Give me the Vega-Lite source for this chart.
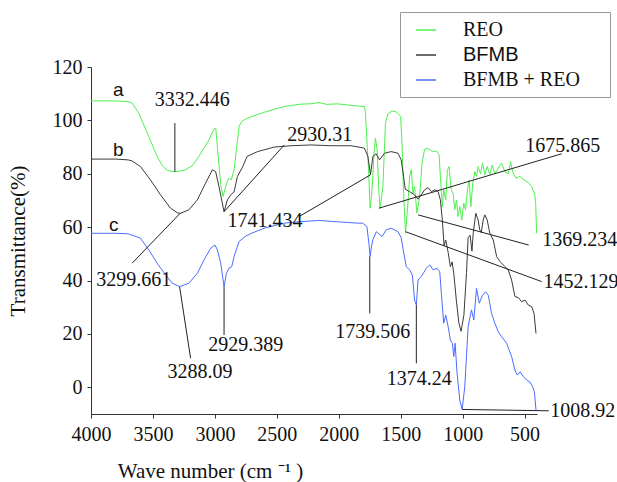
{
  "$schema": "https://vega.github.io/schema/vega-lite/v6.json",
  "autosize": "none",
  "width": 446,
  "height": 347,
  "padding": {"left": 91, "top": 67, "right": 80, "bottom": 68},
  "background": "white",
  "config": {
    "view": {"stroke": null},
    "axis": {"grid": false, "domainColor": "#333", "tickColor": "#333", "tickSize": 4, "labelFont": "Liberation Serif", "labelFontSize": 20, "labelColor": "#111", "titleFont": "Liberation Serif", "titleFontSize": 21, "titleFontWeight": "normal", "titleColor": "#111", "labelOverlap": false, "labelFlush": false}
  },
  "datasets": {
    "spectra": [
      {"w":4000,"t":107.3,"s":"REO"},{"w":3800,"t":107.3,"s":"REO"},{"w":3700,"t":107.0,"s":"REO"},{"w":3668,"t":106.5,"s":"REO"},{"w":3615,"t":102.7,"s":"REO"},{"w":3534,"t":94,"s":"REO"},{"w":3466,"t":86.5,"s":"REO"},{"w":3425,"t":83,"s":"REO"},{"w":3380,"t":81.2,"s":"REO"},{"w":3331,"t":80.8,"s":"REO"},{"w":3280,"t":81,"s":"REO"},{"w":3236,"t":81.5,"s":"REO"},{"w":3182,"t":83,"s":"REO"},{"w":3129,"t":86.5,"s":"REO"},{"w":3048,"t":92.7,"s":"REO"},{"w":3007,"t":96.7,"s":"REO"},{"w":2993,"t":97,"s":"REO"},{"w":2980,"t":90.2,"s":"REO"},{"w":2953,"t":75.9,"s":"REO"},{"w":2934,"t":71.5,"s":"REO"},{"w":2913,"t":75.2,"s":"REO"},{"w":2900,"t":77,"s":"REO"},{"w":2886,"t":78.4,"s":"REO"},{"w":2867,"t":77.7,"s":"REO"},{"w":2845,"t":81.5,"s":"REO"},{"w":2805,"t":97.7,"s":"REO"},{"w":2783,"t":99.6,"s":"REO"},{"w":2764,"t":100.2,"s":"REO"},{"w":2700,"t":101.5,"s":"REO"},{"w":2602,"t":103,"s":"REO"},{"w":2520,"t":104.2,"s":"REO"},{"w":2440,"t":105.2,"s":"REO"},{"w":2380,"t":105.6,"s":"REO"},{"w":2305,"t":106.1,"s":"REO"},{"w":2230,"t":106.2,"s":"REO"},{"w":2157,"t":106.7,"s":"REO"},{"w":2100,"t":106,"s":"REO"},{"w":2008,"t":106.2,"s":"REO"},{"w":1900,"t":105.6,"s":"REO"},{"w":1792,"t":105.2,"s":"REO"},{"w":1785,"t":102.7,"s":"REO"},{"w":1770,"t":90,"s":"REO"},{"w":1760,"t":82,"s":"REO"},{"w":1747,"t":67.1,"s":"REO"},{"w":1735,"t":72,"s":"REO"},{"w":1725,"t":79,"s":"REO"},{"w":1715,"t":88,"s":"REO"},{"w":1704,"t":93.3,"s":"REO"},{"w":1690,"t":89,"s":"REO"},{"w":1676,"t":72.7,"s":"REO"},{"w":1666,"t":67.1,"s":"REO"},{"w":1644,"t":75.2,"s":"REO"},{"w":1623,"t":99,"s":"REO"},{"w":1603,"t":102.5,"s":"REO"},{"w":1570,"t":103.5,"s":"REO"},{"w":1536,"t":103.2,"s":"REO"},{"w":1501,"t":101.5,"s":"REO"},{"w":1490,"t":91.5,"s":"REO"},{"w":1477,"t":72.7,"s":"REO"},{"w":1461,"t":57.7,"s":"REO"},{"w":1442,"t":69,"s":"REO"},{"w":1428,"t":79,"s":"REO"},{"w":1415,"t":81.5,"s":"REO"},{"w":1401,"t":72.7,"s":"REO"},{"w":1388,"t":75.2,"s":"REO"},{"w":1369,"t":65.2,"s":"REO"},{"w":1347,"t":71.5,"s":"REO"},{"w":1328,"t":84,"s":"REO"},{"w":1307,"t":89.2,"s":"REO"},{"w":1279,"t":89.5,"s":"REO"},{"w":1245,"t":88.3,"s":"REO"},{"w":1212,"t":88.5,"s":"REO"},{"w":1190,"t":87.1,"s":"REO"},{"w":1180,"t":79,"s":"REO"},{"w":1164,"t":67.7,"s":"REO"},{"w":1153,"t":74,"s":"REO"},{"w":1137,"t":70.2,"s":"REO"},{"w":1123,"t":81.5,"s":"REO"},{"w":1109,"t":82.7,"s":"REO"},{"w":1093,"t":74,"s":"REO"},{"w":1077,"t":72.7,"s":"REO"},{"w":1064,"t":66.5,"s":"REO"},{"w":1050,"t":70.2,"s":"REO"},{"w":1037,"t":64,"s":"REO"},{"w":1023,"t":67.7,"s":"REO"},{"w":1007,"t":62.7,"s":"REO"},{"w":991,"t":69,"s":"REO"},{"w":977,"t":66.5,"s":"REO"},{"w":961,"t":74,"s":"REO"},{"w":947,"t":77.7,"s":"REO"},{"w":934,"t":67.7,"s":"REO"},{"w":918,"t":76.5,"s":"REO"},{"w":902,"t":80.8,"s":"REO"},{"w":888,"t":79,"s":"REO"},{"w":875,"t":82.7,"s":"REO"},{"w":856,"t":80,"s":"REO"},{"w":840,"t":84,"s":"REO"},{"w":821,"t":79.7,"s":"REO"},{"w":802,"t":82.7,"s":"REO"},{"w":781,"t":79.7,"s":"REO"},{"w":761,"t":83.3,"s":"REO"},{"w":740,"t":80,"s":"REO"},{"w":713,"t":82.1,"s":"REO"},{"w":686,"t":84,"s":"REO"},{"w":659,"t":80.8,"s":"REO"},{"w":632,"t":80,"s":"REO"},{"w":613,"t":84.6,"s":"REO"},{"w":597,"t":80.8,"s":"REO"},{"w":570,"t":78.3,"s":"REO"},{"w":538,"t":79,"s":"REO"},{"w":505,"t":77.7,"s":"REO"},{"w":470,"t":76.7,"s":"REO"},{"w":443,"t":75.2,"s":"REO"},{"w":421,"t":72.7,"s":"REO"},{"w":411,"t":69.6,"s":"REO"},{"w":403,"t":57.7,"s":"REO"},

      {"w":4000,"t":85.5,"s":"BFMB"},{"w":3800,"t":85.5,"s":"BFMB"},{"w":3700,"t":85.2,"s":"BFMB"},{"w":3668,"t":84.8,"s":"BFMB"},{"w":3601,"t":82.7,"s":"BFMB"},{"w":3520,"t":77.7,"s":"BFMB"},{"w":3439,"t":72.1,"s":"BFMB"},{"w":3358,"t":67.1,"s":"BFMB"},{"w":3300,"t":65.3,"s":"BFMB"},{"w":3277,"t":65.2,"s":"BFMB"},{"w":3210,"t":66.5,"s":"BFMB"},{"w":3142,"t":70.2,"s":"BFMB"},{"w":3075,"t":76.5,"s":"BFMB"},{"w":3020,"t":81.5,"s":"BFMB"},{"w":2994,"t":80.8,"s":"BFMB"},{"w":2967,"t":75.2,"s":"BFMB"},{"w":2926,"t":65.8,"s":"BFMB"},{"w":2899,"t":70.2,"s":"BFMB"},{"w":2872,"t":72.1,"s":"BFMB"},{"w":2845,"t":73.2,"s":"BFMB"},{"w":2818,"t":79,"s":"BFMB"},{"w":2777,"t":82.5,"s":"BFMB"},{"w":2740,"t":86.5,"s":"BFMB"},{"w":2656,"t":88.3,"s":"BFMB"},{"w":2521,"t":90,"s":"BFMB"},{"w":2386,"t":90.5,"s":"BFMB"},{"w":2224,"t":90.8,"s":"BFMB"},{"w":2062,"t":90.5,"s":"BFMB"},{"w":1900,"t":90.5,"s":"BFMB"},{"w":1793,"t":89.6,"s":"BFMB"},{"w":1765,"t":86.5,"s":"BFMB"},{"w":1744,"t":79.6,"s":"BFMB"},{"w":1725,"t":86.5,"s":"BFMB"},{"w":1698,"t":87.5,"s":"BFMB"},{"w":1671,"t":85.2,"s":"BFMB"},{"w":1631,"t":87.7,"s":"BFMB"},{"w":1577,"t":88.3,"s":"BFMB"},{"w":1522,"t":87.7,"s":"BFMB"},{"w":1496,"t":85.2,"s":"BFMB"},{"w":1477,"t":79,"s":"BFMB"},{"w":1463,"t":74.2,"s":"BFMB"},{"w":1428,"t":73.3,"s":"BFMB"},{"w":1388,"t":72.1,"s":"BFMB"},{"w":1360,"t":70.5,"s":"BFMB"},{"w":1334,"t":72.1,"s":"BFMB"},{"w":1307,"t":74,"s":"BFMB"},{"w":1279,"t":74.8,"s":"BFMB"},{"w":1252,"t":73.3,"s":"BFMB"},{"w":1225,"t":74,"s":"BFMB"},{"w":1198,"t":73.3,"s":"BFMB"},{"w":1180,"t":70.2,"s":"BFMB"},{"w":1164,"t":62.7,"s":"BFMB"},{"w":1150,"t":53,"s":"BFMB"},{"w":1137,"t":55.2,"s":"BFMB"},{"w":1117,"t":50.5,"s":"BFMB"},{"w":1099,"t":45.2,"s":"BFMB"},{"w":1085,"t":47,"s":"BFMB"},{"w":1070,"t":42,"s":"BFMB"},{"w":1050,"t":32,"s":"BFMB"},{"w":1030,"t":24,"s":"BFMB"},{"w":1013,"t":21,"s":"BFMB"},{"w":990,"t":27,"s":"BFMB"},{"w":969,"t":43,"s":"BFMB"},{"w":956,"t":56,"s":"BFMB"},{"w":940,"t":57,"s":"BFMB"},{"w":925,"t":51,"s":"BFMB"},{"w":915,"t":57.7,"s":"BFMB"},{"w":894,"t":65.2,"s":"BFMB"},{"w":875,"t":62.7,"s":"BFMB"},{"w":862,"t":59,"s":"BFMB"},{"w":850,"t":58,"s":"BFMB"},{"w":834,"t":62.7,"s":"BFMB"},{"w":821,"t":64.6,"s":"BFMB"},{"w":802,"t":62.7,"s":"BFMB"},{"w":781,"t":57.7,"s":"BFMB"},{"w":753,"t":55.2,"s":"BFMB"},{"w":726,"t":49,"s":"BFMB"},{"w":700,"t":47.2,"s":"BFMB"},{"w":659,"t":45.2,"s":"BFMB"},{"w":632,"t":44,"s":"BFMB"},{"w":605,"t":40.2,"s":"BFMB"},{"w":578,"t":34,"s":"BFMB"},{"w":551,"t":33.6,"s":"BFMB"},{"w":524,"t":32.1,"s":"BFMB"},{"w":497,"t":32.7,"s":"BFMB"},{"w":470,"t":30.8,"s":"BFMB"},{"w":443,"t":30.2,"s":"BFMB"},{"w":424,"t":27.7,"s":"BFMB"},{"w":408,"t":20.2,"s":"BFMB"},

      {"w":4000,"t":57.7,"s":"BFMB + REO"},{"w":3800,"t":57.7,"s":"BFMB + REO"},{"w":3700,"t":57.5,"s":"BFMB + REO"},{"w":3668,"t":57,"s":"BFMB + REO"},{"w":3601,"t":55.9,"s":"BFMB + REO"},{"w":3534,"t":51.5,"s":"BFMB + REO"},{"w":3466,"t":46.5,"s":"BFMB + REO"},{"w":3398,"t":42.1,"s":"BFMB + REO"},{"w":3344,"t":39,"s":"BFMB + REO"},{"w":3285,"t":37.7,"s":"BFMB + REO"},{"w":3210,"t":39,"s":"BFMB + REO"},{"w":3142,"t":42.7,"s":"BFMB + REO"},{"w":3088,"t":47.7,"s":"BFMB + REO"},{"w":3034,"t":52.1,"s":"BFMB + REO"},{"w":2999,"t":53.3,"s":"BFMB + REO"},{"w":2980,"t":51.5,"s":"BFMB + REO"},{"w":2953,"t":46.5,"s":"BFMB + REO"},{"w":2926,"t":37.7,"s":"BFMB + REO"},{"w":2907,"t":42.7,"s":"BFMB + REO"},{"w":2886,"t":44.6,"s":"BFMB + REO"},{"w":2864,"t":45.2,"s":"BFMB + REO"},{"w":2845,"t":49,"s":"BFMB + REO"},{"w":2805,"t":54.6,"s":"BFMB + REO"},{"w":2756,"t":56.5,"s":"BFMB + REO"},{"w":2700,"t":57.8,"s":"BFMB + REO"},{"w":2602,"t":59.6,"s":"BFMB + REO"},{"w":2440,"t":61.5,"s":"BFMB + REO"},{"w":2305,"t":62.1,"s":"BFMB + REO"},{"w":2157,"t":62.5,"s":"BFMB + REO"},{"w":2008,"t":62,"s":"BFMB + REO"},{"w":1846,"t":61.5,"s":"BFMB + REO"},{"w":1806,"t":61.5,"s":"BFMB + REO"},{"w":1773,"t":60.2,"s":"BFMB + REO"},{"w":1757,"t":54,"s":"BFMB + REO"},{"w":1747,"t":49,"s":"BFMB + REO"},{"w":1735,"t":53,"s":"BFMB + REO"},{"w":1725,"t":55.2,"s":"BFMB + REO"},{"w":1698,"t":58.3,"s":"BFMB + REO"},{"w":1671,"t":57.3,"s":"BFMB + REO"},{"w":1650,"t":56.5,"s":"BFMB + REO"},{"w":1617,"t":59,"s":"BFMB + REO"},{"w":1577,"t":59.6,"s":"BFMB + REO"},{"w":1522,"t":58.3,"s":"BFMB + REO"},{"w":1496,"t":56,"s":"BFMB + REO"},{"w":1482,"t":52,"s":"BFMB + REO"},{"w":1455,"t":45.2,"s":"BFMB + REO"},{"w":1428,"t":44,"s":"BFMB + REO"},{"w":1406,"t":42,"s":"BFMB + REO"},{"w":1388,"t":32.7,"s":"BFMB + REO"},{"w":1374,"t":30.8,"s":"BFMB + REO"},{"w":1360,"t":40.2,"s":"BFMB + REO"},{"w":1334,"t":41.5,"s":"BFMB + REO"},{"w":1293,"t":44.6,"s":"BFMB + REO"},{"w":1266,"t":45.9,"s":"BFMB + REO"},{"w":1239,"t":44,"s":"BFMB + REO"},{"w":1207,"t":44.6,"s":"BFMB + REO"},{"w":1185,"t":43.3,"s":"BFMB + REO"},{"w":1172,"t":35.2,"s":"BFMB + REO"},{"w":1153,"t":24,"s":"BFMB + REO"},{"w":1137,"t":27.1,"s":"BFMB + REO"},{"w":1117,"t":22.7,"s":"BFMB + REO"},{"w":1099,"t":17.7,"s":"BFMB + REO"},{"w":1083,"t":16.5,"s":"BFMB + REO"},{"w":1072,"t":11.5,"s":"BFMB + REO"},{"w":1061,"t":16.5,"s":"BFMB + REO"},{"w":1045,"t":5.2,"s":"BFMB + REO"},{"w":1023,"t":-4.8,"s":"BFMB + REO"},{"w":1004,"t":-8.3,"s":"BFMB + REO"},{"w":983,"t":0.2,"s":"BFMB + REO"},{"w":956,"t":22.7,"s":"BFMB + REO"},{"w":929,"t":29,"s":"BFMB + REO"},{"w":910,"t":25.2,"s":"BFMB + REO"},{"w":888,"t":37.1,"s":"BFMB + REO"},{"w":866,"t":31.5,"s":"BFMB + REO"},{"w":840,"t":34.5,"s":"BFMB + REO"},{"w":815,"t":35.8,"s":"BFMB + REO"},{"w":793,"t":34.5,"s":"BFMB + REO"},{"w":767,"t":27.7,"s":"BFMB + REO"},{"w":740,"t":24,"s":"BFMB + REO"},{"w":713,"t":20.8,"s":"BFMB + REO"},{"w":686,"t":19,"s":"BFMB + REO"},{"w":645,"t":16.5,"s":"BFMB + REO"},{"w":605,"t":11.5,"s":"BFMB + REO"},{"w":578,"t":6.5,"s":"BFMB + REO"},{"w":559,"t":4.6,"s":"BFMB + REO"},{"w":537,"t":5.8,"s":"BFMB + REO"},{"w":510,"t":4,"s":"BFMB + REO"},{"w":483,"t":2.7,"s":"BFMB + REO"},{"w":457,"t":2,"s":"BFMB + REO"},{"w":435,"t":0.2,"s":"BFMB + REO"},{"w":421,"t":-1.7,"s":"BFMB + REO"},{"w":408,"t":-8.5,"s":"BFMB + REO"}
    ],
    "leaders": [
      {"x":3323,"y":80.8,"x2":3323,"y2":99},
      {"x":3280,"y":65.2,"x2":3668,"y2":46.5},
      {"x":3285,"y":37.7,"x2":3196,"y2":10.9},
      {"x":2926,"y":37.7,"x2":2926,"y2":19.6},
      {"x":2926,"y":65.8,"x2":2440,"y2":90.8},
      {"x":1744,"y":79.6,"x2":2319,"y2":64},
      {"x":1676,"y":67.1,"x2":200,"y2":87.5},
      {"x":1360,"y":64.6,"x2":467,"y2":53.3},
      {"x":1461,"y":58.3,"x2":362,"y2":39.6},
      {"x":1750,"y":49,"x2":1750,"y2":27.7},
      {"x":1374,"y":30.8,"x2":1374,"y2":9},
      {"x":1004,"y":-8.3,"x2":305,"y2":-8.8}
    ],
    "peaks": [
      {"x":3182,"y":107.7,"label":"3332.446"},
      {"x":3655,"y":40.2,"label":"3299.661"},
      {"x":3121,"y":5.9,"label":"3288.09"},
      {"x":2751,"y":15.8,"label":"2929.389"},
      {"x":2154,"y":94.6,"label":"2930.31"},
      {"x":2596,"y":62.3,"label":"1741.434"},
      {"x":192,"y":90.5,"label":"1675.865"},
      {"x":54,"y":55.2,"label":"1369.234"},
      {"x":45,"y":39.6,"label":"1452.129"},
      {"x":30,"y":-8.8,"label":"1008.92"},
      {"x":1726,"y":20.8,"label":"1739.506"},
      {"x":1350,"y":3.2,"label":"1374.24"}
    ],
    "letters": [
      {"x":3779,"y":109.1,"label":"a"},
      {"x":3779,"y":86.6,"label":"b"},
      {"x":3817,"y":58.6,"label":"c"}
    ]
  },
  "layer": [
    {
      "data": {"name": "spectra"},
      "mark": {"type": "line", "strokeWidth": 1, "interpolate": "linear"},
      "encoding": {
        "x": {"field": "w", "type": "quantitative",
              "scale": {"domain": [400, 4000], "reverse": true, "nice": false, "zero": false},
              "axis": {"values": [4000,3750,3500,3250,3000,2750,2500,2250,2000,1750,1500,1250,1000,750,500], "format": "d",
                       "labelExpr": "datum.value % 500 == 0 ? datum.label : ''", "labelPadding": 6,
                       "title": "Wave number (cm ⁻¹  )", "titleX": 119, "titleY": 57, "titleBaseline": "middle", "titleAnchor": "middle", "titleAlign": "center"}},
        "y": {"field": "t", "type": "quantitative",
              "scale": {"domain": [-10, 120], "nice": false, "zero": false},
              "axis": {"values": [0,10,20,30,40,50,60,70,80,90,100,110,120], "format": "d",
                       "labelExpr": "datum.value % 20 == 0 ? datum.label : ''", "labelPadding": 5,
                       "title": "Transmittance(%)", "titlePadding": 24}},
        "color": {"field": "s", "type": "nominal",
                  "scale": {"domain": ["REO", "BFMB", "BFMB + REO"], "range": ["#4ef04e", "#3a3a3a", "#4a6cff"]},
                  "legend": {"orient": "none", "legendX": 309, "legendY": -55,
                             "title": ".", "titleOrient": "right", "titlePadding": 19, "titleColor": "white", "titleFontSize": 12,
                             "strokeColor": "#999", "fillColor": "white", "padding": 7,
                             "symbolType": "stroke", "symbolSize": 400, "symbolStrokeWidth": 1.5, "symbolOffset": 8,
                             "labelFont": "Liberation Serif", "labelFontSize": 20, "labelColor": "#111",
                             "rowPadding": 4, "labelOffset": 26, "labelLimit": 300,
                             "encode": {"labels": {"update": {
                               "font": {"signal": "datum.value == 'BFMB' ? 'Liberation Sans' : 'Liberation Serif'"}}}}}}
      }
    },
    {
      "data": {"name": "leaders"},
      "mark": {"type": "rule", "color": "#222", "strokeWidth": 1},
      "encoding": {
        "x": {"field": "x", "type": "quantitative"},
        "y": {"field": "y", "type": "quantitative"},
        "x2": {"field": "x2"},
        "y2": {"field": "y2"}
      }
    },
    {
      "data": {"name": "peaks"},
      "mark": {"type": "text", "font": "Liberation Serif", "fontSize": 20, "color": "#111", "align": "center", "baseline": "middle"},
      "encoding": {
        "x": {"field": "x", "type": "quantitative"},
        "y": {"field": "y", "type": "quantitative"},
        "text": {"field": "label"}
      }
    },
    {
      "data": {"name": "letters"},
      "mark": {"type": "text", "font": "Liberation Sans", "fontSize": 19, "color": "#111", "align": "center", "baseline": "alphabetic"},
      "encoding": {
        "x": {"field": "x", "type": "quantitative"},
        "y": {"field": "y", "type": "quantitative"},
        "text": {"field": "label"}
      }
    }
  ]
}
